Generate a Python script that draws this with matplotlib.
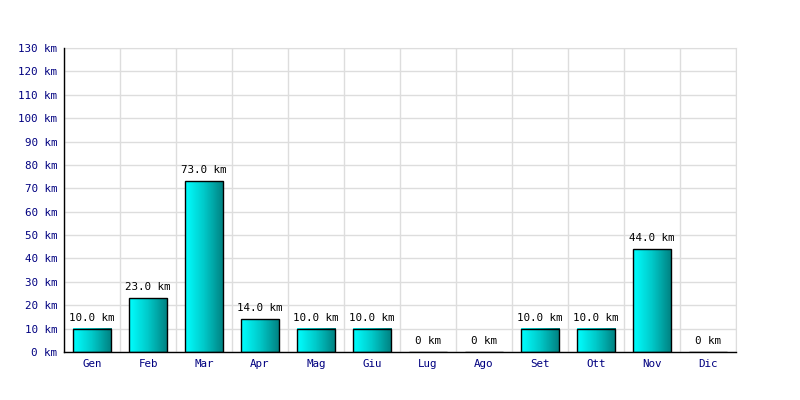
import numpy as np
import matplotlib.pyplot as plt
from matplotlib.colors import LinearSegmentedColormap

mesi = ['Gen', 'Feb', 'Mar', 'Apr', 'Mag', 'Giu', 'Lug', 'Ago', 'Set', 'Ott', 'Nov', 'Dic']
km = [10.0, 23.0, 73.0, 14.0, 10.0, 10.0, 0, 0, 10.0, 10.0, 44.0, 0]

plt.rcParams['font.family'] = 'DejaVu Sans Mono'

fig = plt.figure(figsize=(8, 4), dpi=100)
ax = fig.add_axes([0.08, 0.12, 0.84, 0.76])

x = np.arange(len(mesi))
ax.set_xlim(-0.5, len(mesi) - 0.5)
ax.set_ylim(0, 130)

# griglia
ax.set_yticks(np.arange(0, 131, 10))
ax.set_yticklabels(['%d km' % v for v in range(0, 131, 10)])
ax.set_xticks(x)
ax.set_xticklabels(mesi)
ax.set_xticks(np.arange(-0.5, len(mesi)), minor=True)
ax.grid(True, which='major', axis='y', color='#dddddd', lw=1)
ax.grid(True, which='minor', axis='x', color='#dddddd', lw=1)
ax.set_axisbelow(True)
ax.tick_params(which='both', length=0)
ax.tick_params(axis='both', colors='#000080', labelsize=7.8, pad=5)
ax.spines['top'].set_color('#dddddd')
ax.spines['right'].set_color('#dddddd')
for s in ['left', 'bottom']:
    ax.spines[s].set_color('black')
    ax.spines[s].set_linewidth(1)
    ax.spines[s].set_zorder(5)

cmap = LinearSegmentedColormap.from_list('g', ['#00ffff', '#00c8c8', '#008080'])
grad = np.linspace(0, 1, 64).reshape(1, -1)
w = 0.68
bars = ax.bar(x, km, width=w, color='none', edgecolor='black', lw=1, zorder=3)
for b, v in zip(bars, km):
    if v > 0:
        x0 = b.get_x()
        ax.imshow(grad, cmap=cmap, aspect='auto', extent=(x0, x0 + w, 0, v), zorder=2)
    lab = '%.1f km' % v if v > 0 else '0 km'
    ax.text(b.get_x() + w / 2, v + 2.5, lab, ha='center', va='bottom', fontsize=7.8, color='black')

ax.set_xlim(-0.5, len(mesi) - 0.5)
ax.set_ylim(0, 130)
fig.savefig('out.png', dpi=100)
